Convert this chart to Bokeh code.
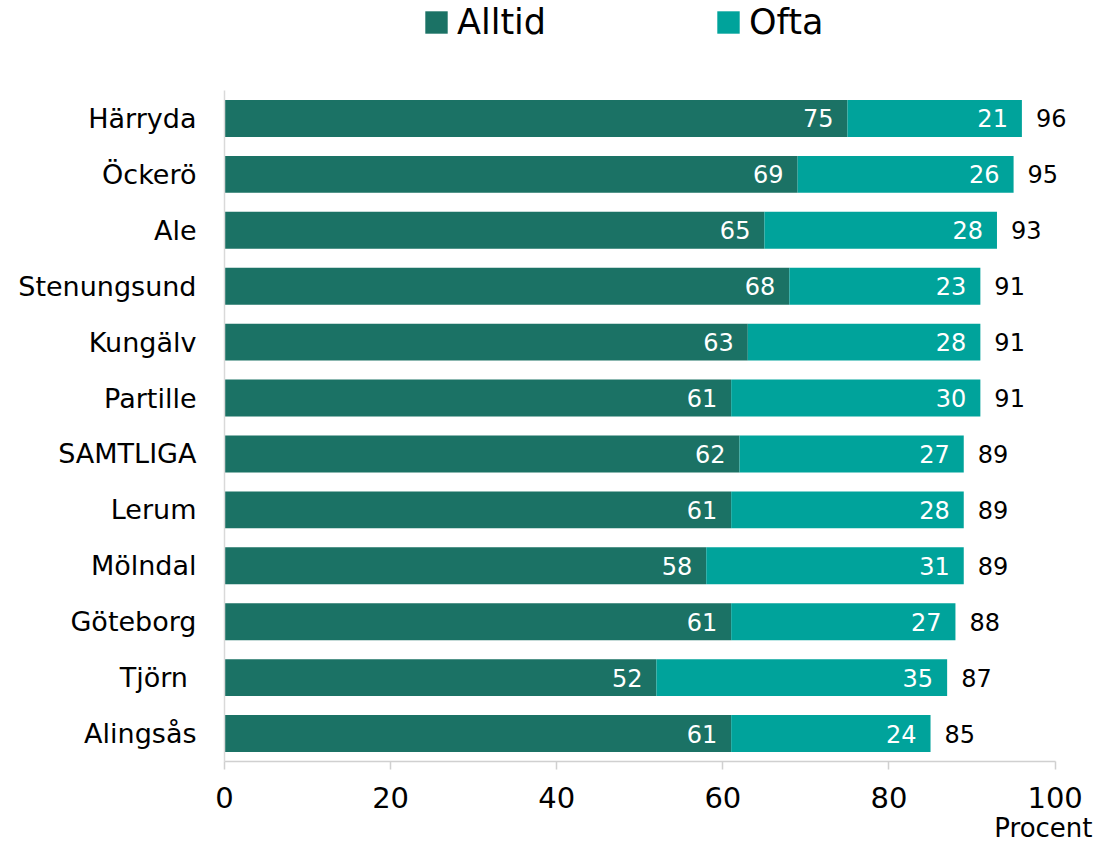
from bokeh.plotting import figure
from bokeh.models import ColumnDataSource, Range1d, Legend, LegendItem, Title, FixedTicker
from bokeh.core.properties import value
from bokeh.embed import file_html
from bokeh.resources import INLINE

categories = ["Härryda", "Öckerö", "Ale", "Stenungsund", "Kungälv", "Partille",
              "SAMTLIGA", "Lerum", "Mölndal", "Göteborg", "Tjörn ", "Alingsås"]
alltid = [75, 69, 65, 68, 63, 61, 62, 61, 58, 61, 52, 61]
ofta = [21, 26, 28, 23, 28, 30, 27, 28, 31, 27, 35, 24]
total = [96, 95, 93, 91, 91, 91, 89, 89, 89, 88, 87, 85]
x_ticks = [0, 20, 40, 60, 80, 100]

DARK = "#1B7265"
LIGHT = "#00A39B"
FONT = "DejaVu Sans"

n = len(categories)
ypos = list(range(n))
src = ColumnDataSource(dict(
    y=ypos,
    alltid=alltid,
    ofta=ofta,
    end=[a + o for a, o in zip(alltid, ofta)],
    alltid_lbl=[str(v) for v in alltid],
    ofta_lbl=[str(v) for v in ofta],
    total_lbl=[str(v) for v in total],
))

FW, FH = 868, 761
TOP_EXTRA = 1.61  # room for the legend inside the frame, above the first bar
p = figure(x_range=Range1d(0, 104.5),
           y_range=Range1d(n - 0.5, -0.5 - TOP_EXTRA),
           frame_width=FW, frame_height=FH,
           min_border_left=224, min_border_right=4, min_border_top=0, min_border_bottom=90,
           output_backend="svg", toolbar_location=None)

r1 = p.hbar(y="y", left=0, right="alltid", height=0.66, source=src,
            fill_color=DARK, line_color=None)
r2 = p.hbar(y="y", left="alltid", right="end", height=0.66, source=src,
            fill_color=LIGHT, line_color=None)

p.text(x="alltid", y="y", text="alltid_lbl", source=src, text_align="right",
       text_baseline="middle", x_offset=-14, text_color="white",
       text_font=value(FONT), text_font_size="24px")
p.text(x="end", y="y", text="ofta_lbl", source=src, text_align="right",
       text_baseline="middle", x_offset=-14, text_color="white",
       text_font=value(FONT), text_font_size="24px")
p.text(x="end", y="y", text="total_lbl", source=src, text_align="left",
       text_baseline="middle", x_offset=14, text_color="black",
       text_font=value(FONT), text_font_size="24px")

legend = Legend(items=[LegendItem(label="Alltid", renderers=[r1]),
                       LegendItem(label="Ofta", renderers=[r2])],
                orientation="horizontal", location=(198, FH - 42),
                glyph_width=28, glyph_height=28, label_standoff=7, spacing=168,
                padding=0, margin=0, border_line_color=None, background_fill_alpha=0,
                label_text_font=FONT, label_text_font_size="35px", label_text_color="black")
p.add_layout(legend, "center")

p.xgrid.grid_line_color = None
p.ygrid.grid_line_color = None
p.outline_line_color = None

p.xaxis.bounds = (0, 100)
p.xaxis.ticker = FixedTicker(ticks=x_ticks)
p.xaxis.axis_line_color = "#d0d0d0"
p.xaxis.axis_line_width = 1.5
p.xaxis.major_tick_line_color = "#d0d0d0"
p.xaxis.major_tick_line_width = 1.5
p.xaxis.major_tick_in = 0
p.xaxis.major_tick_out = 8
p.xaxis.minor_tick_line_color = None
p.xaxis.major_label_standoff = 17
p.xaxis.major_label_text_font = FONT
p.xaxis.major_label_text_font_size = "29px"
p.xaxis.major_label_text_color = "black"

p.add_layout(Title(text="Procent", align="right", offset=0, standoff=1,
                   text_font=FONT, text_font_size="26px", text_font_style="normal",
                   text_color="black"), "below")

p.yaxis.bounds = (-0.5, n - 0.5)
p.yaxis.ticker = FixedTicker(ticks=ypos)
p.yaxis.major_label_overrides = {i: c for i, c in zip(ypos, categories)}
p.yaxis.axis_line_color = "#d9d9d9"
p.yaxis.axis_line_width = 1.5
p.yaxis.major_tick_line_color = None
p.yaxis.major_tick_in = 0
p.yaxis.major_tick_out = 0
p.yaxis.minor_tick_line_color = None
p.yaxis.major_label_standoff = 28
p.yaxis.major_label_text_font = FONT
p.yaxis.major_label_text_font_size = "27px"
p.yaxis.major_label_text_color = "black"

open("out.html", "w").write(file_html(p, INLINE))
